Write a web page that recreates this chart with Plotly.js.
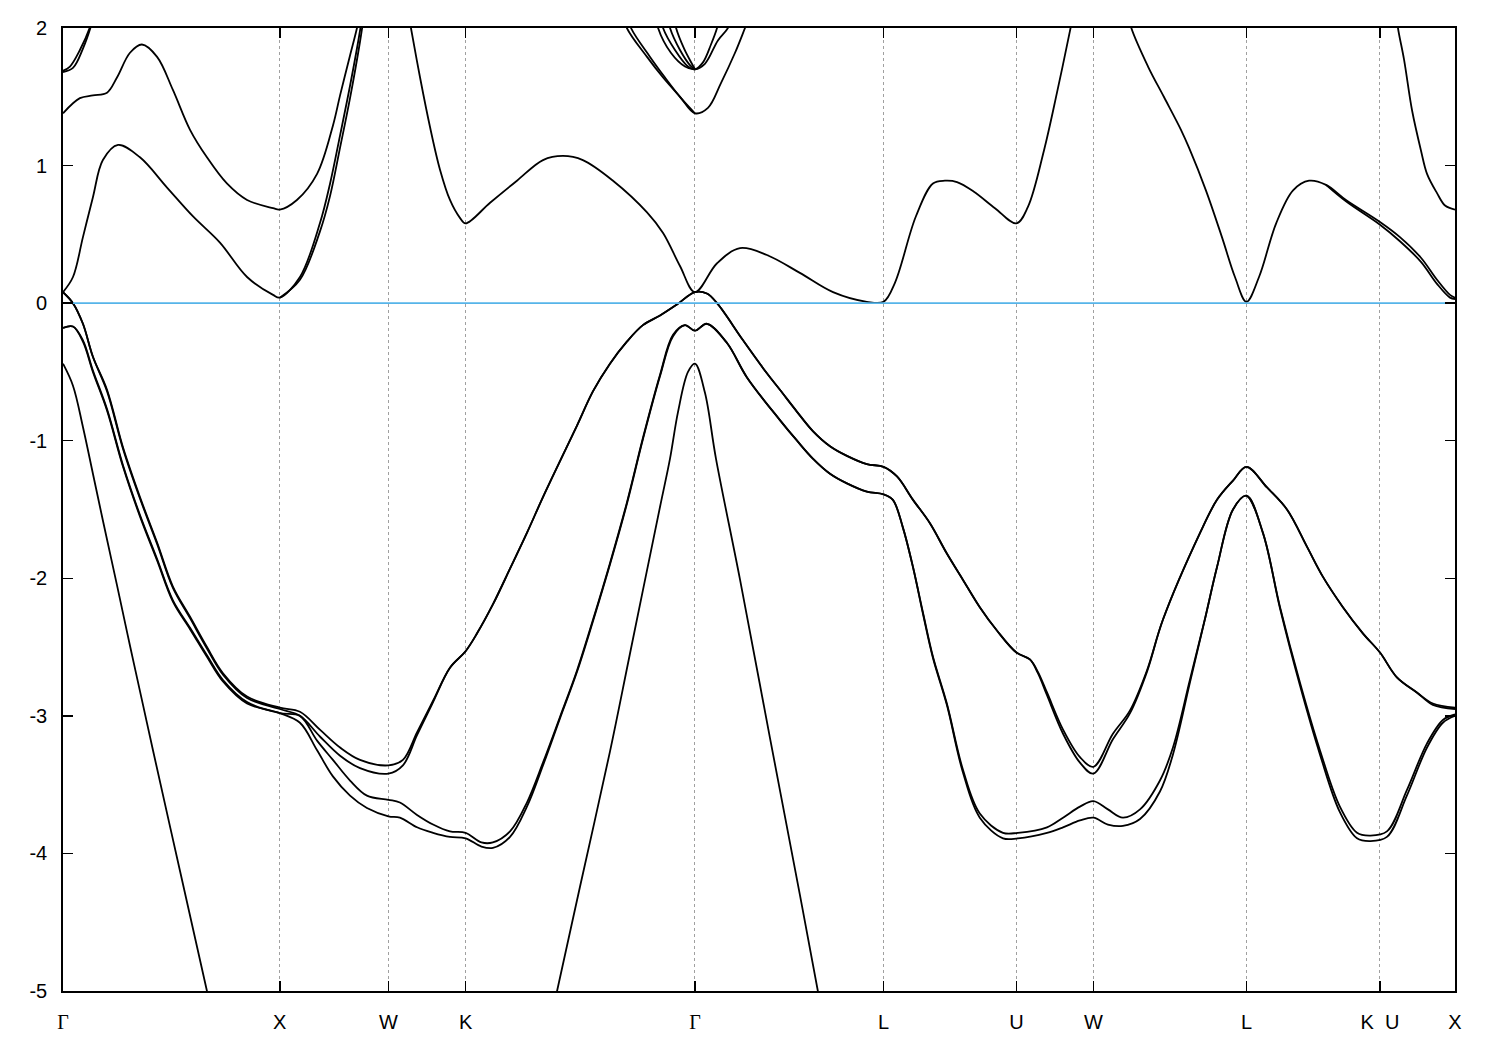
<!DOCTYPE html>
<html>
<head>
<meta charset="utf-8">
<script src="https://cdn.plot.ly/plotly-3.0.1.min.js"></script>
<style>html,body{margin:0;padding:0;background:#fff;}#chart{width:1500px;height:1050px;}</style>
</head>
<body>
<div id="chart"></div>
<script>
// High-symmetry points (path coordinate) and labels
const tickPos = [0, 1.0, 1.501, 1.857, 2.915, 3.785, 4.398, 4.753, 5.459, 6.075, 6.421];
const tickLabels = ['<span style="font-family:\'Liberation Serif\'">Γ</span>', 'X', 'W', 'K',
  '<span style="font-family:\'Liberation Serif\'">Γ</span>', 'L', 'U', 'W', 'L', 'K\u00a0\u00a0U', 'X'];
const energyTicks = [-5, -4, -3, -2, -1, 0, 1, 2];
const energyTickText = ['-5', '-4', '-3', '-2', '-1', '0', '1', '2'];
const energyRange = [-5, 2];

// Valence bands A (top valence pair)
const kA = [0, 0.046, 0.092, 0.138, 0.203, 0.277, 0.355, 0.434, 0.507, 0.586, 0.664, 0.738, 0.849, 1.0,
  1.093, 1.185, 1.278, 1.370, 1.501,
  1.568, 1.633, 1.707, 1.785, 1.857,
  1.910, 1.983, 2.062, 2.140, 2.214, 2.292, 2.371, 2.445, 2.523, 2.601, 2.675, 2.754, 2.832, 2.915,
  2.970, 3.017, 3.137, 3.247, 3.307, 3.386, 3.459, 3.538, 3.616, 3.708, 3.785,
  3.847, 3.921, 3.999, 4.077, 4.151, 4.229, 4.308, 4.398, 4.460, 4.497, 4.539, 4.613, 4.691, 4.753,
  4.843, 4.922, 5.000, 5.074, 5.245, 5.323, 5.397, 5.459,
  5.554, 5.646, 5.738, 5.812, 5.904, 5.996, 6.075, 6.153, 6.245, 6.319, 6.421];
const eA1 = [0.08, 0.00, -0.15, -0.39, -0.63, -1.05, -1.41, -1.74, -2.06, -2.28, -2.50, -2.69, -2.86, -2.94,
  -2.97, -3.10, -3.23, -3.32, -3.36,
  -3.32, -3.12, -2.89, -2.65, -2.53,
  -2.40, -2.19, -1.93, -1.67, -1.41, -1.15, -0.89, -0.64, -0.44, -0.28, -0.16, -0.09, -0.01, 0.08,
  0.07, 0.00, -0.27, -0.51, -0.63, -0.79, -0.93, -1.04, -1.11, -1.17, -1.19,
  -1.26, -1.43, -1.60, -1.82, -2.01, -2.21, -2.38, -2.54, -2.59, -2.68, -2.83, -3.10, -3.30, -3.37,
  -3.13, -2.96, -2.67, -2.30, -1.67, -1.43, -1.29, -1.19,
  -1.34, -1.50, -1.77, -1.99, -2.21, -2.40, -2.54, -2.72, -2.83, -2.91, -2.94];
const eA2 = [0.08, 0.00, -0.15, -0.39, -0.64, -1.06, -1.42, -1.75, -2.07, -2.29, -2.51, -2.70, -2.87, -2.95,
  -3.00, -3.15, -3.29, -3.38, -3.42,
  -3.36, -3.14, -2.90, -2.65, -2.53,
  -2.40, -2.19, -1.93, -1.67, -1.41, -1.15, -0.89, -0.64, -0.44, -0.28, -0.16, -0.09, -0.01, 0.08,
  0.07, 0.00, -0.27, -0.51, -0.63, -0.79, -0.93, -1.04, -1.11, -1.17, -1.19,
  -1.26, -1.43, -1.60, -1.82, -2.01, -2.21, -2.38, -2.54, -2.59, -2.69, -2.85, -3.13, -3.34, -3.42,
  -3.17, -2.98, -2.68, -2.30, -1.67, -1.43, -1.29, -1.19,
  -1.34, -1.50, -1.77, -1.99, -2.21, -2.40, -2.54, -2.72, -2.83, -2.92, -2.95];

// Valence bands B (second valence pair)
const kB = [0, 0.046, 0.092, 0.138, 0.203, 0.277, 0.355, 0.434, 0.507, 0.586, 0.664, 0.738, 0.849, 1.0,
  1.093, 1.172, 1.245, 1.324, 1.402, 1.501,
  1.554, 1.633, 1.707, 1.785, 1.857,
  1.930, 1.983, 2.062, 2.140, 2.214, 2.292, 2.371, 2.445, 2.523, 2.601, 2.675, 2.754, 2.814, 2.869, 2.915, 2.970,
  3.063, 3.155, 3.307, 3.386, 3.459, 3.538, 3.616, 3.708, 3.785,
  3.828, 3.874, 3.921, 3.967, 4.013, 4.077, 4.151, 4.229, 4.336, 4.405, 4.539, 4.613, 4.691, 4.753,
  4.820, 4.889, 4.968, 5.060, 5.120, 5.198, 5.267, 5.323, 5.397, 5.459,
  5.535, 5.614, 5.706, 5.798, 5.890, 5.969, 6.029, 6.107, 6.199, 6.292, 6.365, 6.421];
const eB1 = [-0.18, -0.17, -0.27, -0.49, -0.77, -1.18, -1.54, -1.86, -2.16, -2.36, -2.56, -2.74, -2.90, -2.98,
  -3.00, -3.18, -3.32, -3.47, -3.58, -3.61,
  -3.63, -3.72, -3.79, -3.84, -3.85,
  -3.92, -3.92, -3.84, -3.63, -3.34, -3.01, -2.67, -2.30, -1.89, -1.45, -0.98, -0.52, -0.23, -0.16, -0.20, -0.15,
  -0.29, -0.54, -0.85, -1.00, -1.13, -1.24, -1.31, -1.37, -1.39,
  -1.43, -1.63, -1.92, -2.25, -2.57, -2.91, -3.39, -3.71, -3.85, -3.85, -3.81, -3.74, -3.66, -3.62,
  -3.68, -3.74, -3.68, -3.47, -3.23, -2.74, -2.30, -1.92, -1.50, -1.40,
  -1.67, -2.21, -2.76, -3.25, -3.66, -3.85, -3.87, -3.84, -3.54, -3.20, -3.03, -2.99];
const eB2 = [-0.18, -0.17, -0.28, -0.50, -0.78, -1.19, -1.55, -1.87, -2.17, -2.37, -2.57, -2.75, -2.91, -2.98,
  -3.05, -3.25, -3.44, -3.58, -3.67, -3.73,
  -3.74, -3.81, -3.85, -3.88, -3.89,
  -3.95, -3.96, -3.88, -3.66, -3.36, -3.02, -2.68, -2.31, -1.90, -1.46, -0.99, -0.53, -0.24, -0.16, -0.20, -0.15,
  -0.29, -0.54, -0.85, -1.00, -1.13, -1.24, -1.31, -1.37, -1.39,
  -1.43, -1.63, -1.92, -2.26, -2.58, -2.92, -3.41, -3.74, -3.89, -3.89, -3.85, -3.81, -3.76, -3.74,
  -3.79, -3.80, -3.75, -3.55, -3.28, -2.76, -2.30, -1.92, -1.50, -1.40,
  -1.67, -2.22, -2.78, -3.28, -3.70, -3.89, -3.91, -3.88, -3.58, -3.23, -3.05, -3.00];

// Deep valence band (leaves the window below -5)
const kLow = [0, 0.046, 0.092, 0.138, 0.184, 0.249, 0.309, 0.369, 0.415, 0.540, 0.664, 0.692, null,
  2.251, 2.279, 2.385, 2.523, 2.615, 2.754, 2.800, 2.837, 2.883, 2.915, 2.961, 3.012, 3.123, 3.261, 3.399, 3.482, 3.506];
const eLow = [-0.44, -0.60, -0.90, -1.24, -1.58, -2.05, -2.49, -2.92, -3.25, -4.13, -5.00, -5.20, null,
  -5.20, -5.00, -4.24, -3.26, -2.55, -1.48, -1.13, -0.79, -0.50, -0.44, -0.65, -1.13, -2.01, -3.16, -4.30, -5.00, -5.20];

// Conduction bands
const kCb1 = [0, 0.046, 0.092, 0.138, 0.184, 0.254, 0.355, 0.480, 0.600, 0.724, 0.849, 0.969, 1.0,
  1.093, 1.185, 1.232, 1.278, 1.324, 1.370, 1.384];
const eCb1 = [0.08, 0.19, 0.48, 0.77, 1.04, 1.15, 1.06, 0.84, 0.63, 0.44, 0.19, 0.06, 0.04,
  0.19, 0.58, 0.87, 1.22, 1.58, 1.98, 2.13];
const kCb1b = [1.0, 1.093, 1.185, 1.232, 1.278, 1.324, 1.370, 1.388];
const eCb1b = [0.04, 0.17, 0.52, 0.78, 1.13, 1.49, 1.90, 2.09];

const kCb2 = [0, 0.078, 0.138, 0.203, 0.249, 0.309, 0.364, 0.434, 0.507, 0.586, 0.664, 0.756, 0.849, 0.969, 1.0,
  1.079, 1.172, 1.245, 1.278, 1.324, 1.356, 1.370];
const eCb2 = [1.38, 1.49, 1.51, 1.53, 1.64, 1.82, 1.88, 1.79, 1.55, 1.26, 1.06, 0.87, 0.75, 0.69, 0.68,
  0.75, 0.94, 1.29, 1.51, 1.80, 2.00, 2.11];

const kCb3 = [0, 0.032, 0.078, 0.125, 0.138];
const eCb3 = [1.69, 1.72, 1.84, 2.01, 2.09];
const kCb3b = [0, 0.046, 0.092, 0.134, 0.148];
const eCb3b = [1.68, 1.71, 1.85, 2.04, 2.13];

const kCbMid = [1.591, 1.605, 1.647, 1.693, 1.739, 1.785, 1.831, 1.857,
  1.970, 2.094, 2.214, 2.306, 2.398, 2.537, 2.694, 2.768, 2.846, 2.915,
  3.017, 3.123, 3.247, 3.399, 3.552, 3.708, 3.785,
  3.838, 3.934, 4.013, 4.068, 4.124, 4.202, 4.299, 4.398,
  4.451, 4.525, 4.585, 4.649, 4.663];
const eCbMid = [2.13, 2.00, 1.64, 1.28, 0.97, 0.75, 0.62, 0.58,
  0.73, 0.89, 1.04, 1.07, 1.04, 0.89, 0.66, 0.51, 0.27, 0.08,
  0.29, 0.40, 0.35, 0.22, 0.08, 0.01, 0.01,
  0.15, 0.63, 0.87, 0.89, 0.88, 0.81, 0.69, 0.58,
  0.70, 1.11, 1.53, 2.01, 2.13];

const kCbEnd = [4.912, 4.926, 5.005, 5.078, 5.157, 5.194, 5.272, 5.346, 5.406, 5.459,
  5.517, 5.596, 5.674, 5.748, 5.826, 5.918, 6.075, 6.167, 6.264, 6.338, 6.398, 6.421];
const eCbEnd = [2.13, 2.01, 1.72, 1.50, 1.26, 1.13, 0.82, 0.48, 0.19, 0.01,
  0.19, 0.58, 0.82, 0.89, 0.86, 0.75, 0.59, 0.48, 0.33, 0.17, 0.06, 0.04];
const kCbEnd2 = [5.826, 5.918, 6.075, 6.167, 6.264, 6.338, 6.398, 6.421];
const eCbEnd2 = [0.86, 0.74, 0.57, 0.45, 0.30, 0.14, 0.04, 0.03];

const kCbX = [6.149, 6.158, 6.186, 6.223, 6.264, 6.292, 6.338, 6.375, 6.421];
const eCbX = [2.13, 2.00, 1.77, 1.40, 1.11, 0.94, 0.80, 0.71, 0.68];

const kG1 = [2.578, 2.601, 2.694, 2.768, 2.846, 2.915, 2.975, 3.035, 3.100, 3.146, 3.169];
const eG1 = [2.13, 2.00, 1.79, 1.64, 1.50, 1.38, 1.42, 1.60, 1.82, 2.00, 2.09];
const kG1b = [2.597, 2.620, 2.708, 2.777, 2.851, 2.915];
const eG1b = [2.13, 2.00, 1.79, 1.64, 1.49, 1.38];

const kG2a = [2.731, 2.745, 2.804, 2.869, 2.915, 2.961, 3.021, 3.067, 3.086];
const eG2a = [2.13, 2.00, 1.82, 1.72, 1.70, 1.74, 1.91, 2.00, 2.09];
const kG2b = [2.757, 2.768, 2.823, 2.883, 2.915, 2.952, 2.989, 3.017, 3.030];
const eG2b = [2.09, 2.00, 1.84, 1.72, 1.70, 1.75, 1.88, 2.00, 2.09];
const kG2c = [2.789, 2.800, 2.846, 2.892, 2.915];
const eG2c = [2.09, 2.00, 1.84, 1.73, 1.70];
const kG2d = [2.818, 2.828, 2.865, 2.901, 2.915];
const eG2d = [2.09, 2.00, 1.85, 1.74, 1.70];

// Fermi level
const kFermi = [0, 6.421];
const eFermi = [0, 0];

const bands = [
  [kA, eA1], [kA, eA2], [kB, eB1], [kB, eB2], [kLow, eLow],
  [kCb1, eCb1], [kCb1b, eCb1b], [kCb2, eCb2], [kCb3, eCb3], [kCb3b, eCb3b],
  [kCbMid, eCbMid], [kCbEnd, eCbEnd], [kCbEnd2, eCbEnd2], [kCbX, eCbX],
  [kG1, eG1], [kG1b, eG1b], [kG2a, eG2a], [kG2b, eG2b], [kG2c, eG2c], [kG2d, eG2d]
];

const traces = bands.map(([k, e]) => ({
  x: k, y: e, type: 'scatter', mode: 'lines', connectgaps: false,
  line: {color: '#000000', width: 1.8, shape: 'spline', smoothing: 1.0},
  hoverinfo: 'skip'
}));
traces.push({
  x: kFermi, y: eFermi, type: 'scatter', mode: 'lines',
  line: {color: '#56B4E9', width: 1.8}, hoverinfo: 'skip'
});

const axisCommon = {
  showline: true, linecolor: '#000', linewidth: 1.8, mirror: 'ticks',
  ticks: 'inside', ticklen: 10, tickwidth: 1.5, tickcolor: '#000',
  zeroline: false,
  tickfont: {family: 'Liberation Sans, Arial, sans-serif', size: 20, color: '#000'}
};

const layout = {
  width: 1500, height: 1050,
  margin: {l: 63, r: 45, t: 28, b: 59, pad: 0},
  paper_bgcolor: '#fff', plot_bgcolor: '#fff',
  showlegend: false,
  xaxis: Object.assign({}, axisCommon, {
    range: [0, 6.421], tickmode: 'array', tickvals: tickPos, ticktext: tickLabels,
    showgrid: true, gridcolor: '#a0a0a0', gridwidth: 1, griddash: 'dot',
    ticklabelstandoff: 12
  }),
  yaxis: Object.assign({}, axisCommon, {
    range: energyRange, tickmode: 'array', tickvals: energyTicks, ticktext: energyTickText,
    showgrid: false, ticklabelstandoff: 10
  })
};

Plotly.newPlot('chart', traces, layout, {staticPlot: true, displayModeBar: false});
</script>
</body>
</html>
